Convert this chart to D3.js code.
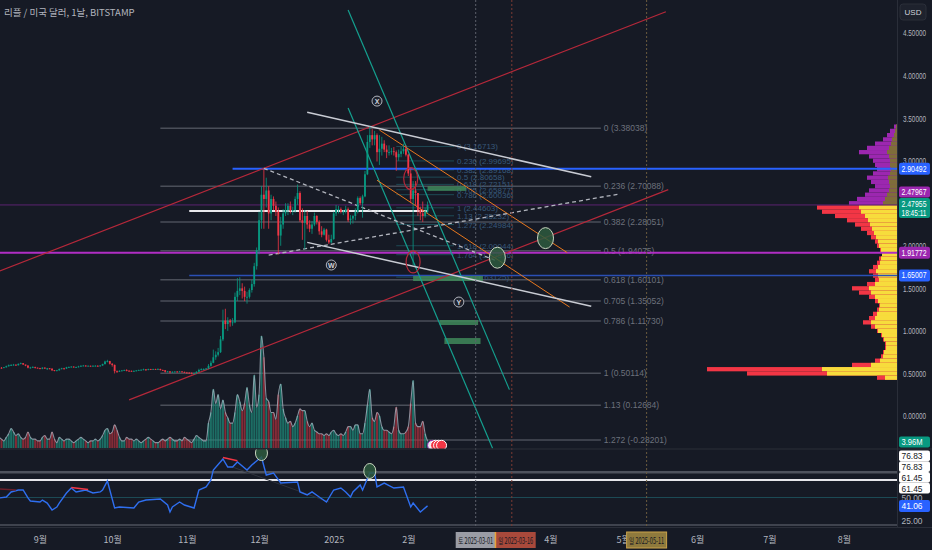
<!DOCTYPE html>
<html>
<head>
<meta charset="utf-8">
<script src="https://cdn.jsdelivr.net/npm/d3@7"></script>
<style>
html, body { margin: 0; padding: 0; background: #161a25; }
svg { display: block; }
</style>
</head>
<body>
<svg width="932" height="550"></svg>
<script>
// ================= DATA =================
const firstDay = "2024-08-15";
const firstOpen = 0.560;
// daily closes, Aug 15 2024 .. Feb 9 2025
const closes = [
  0.567,0.566,0.572,0.585,0.597,0.598,0.603,0.596,0.612,0.620,0.605,0.592,0.568,0.570,0.574,0.567,0.563,
  0.555,0.568,0.558,0.560,0.556,0.538,0.530,0.537,0.553,0.560,0.558,0.572,0.575,0.580,0.573,0.575,0.582,0.590,0.592,0.585,0.590,0.582,0.590,0.590,0.585,0.593,0.610,0.640,0.645,0.614,
  0.600,0.527,0.520,0.530,0.535,0.540,0.532,0.530,0.528,0.530,0.535,0.540,0.543,0.548,0.540,0.550,0.548,0.550,0.549,0.552,0.540,0.538,0.520,0.524,0.512,0.520,0.522,0.520,0.523,0.518,0.510,
  0.508,0.507,0.500,0.502,0.520,0.540,0.550,0.552,0.558,0.590,0.625,0.690,0.720,0.750,0.900,1.120,1.080,1.120,1.100,1.100,1.400,1.470,1.500,1.470,1.400,1.400,1.480,1.550,1.760,1.950,
  2.300,2.600,2.550,2.650,2.380,2.550,2.470,2.400,2.120,2.250,2.380,2.420,2.470,2.410,2.420,2.550,2.620,2.300,2.270,2.350,2.250,2.200,2.250,2.350,2.280,2.170,2.130,2.190,2.070,2.040,2.080,
  2.380,2.430,2.430,2.400,2.400,2.430,2.300,2.320,2.350,2.400,2.560,2.500,2.580,2.840,3.220,3.300,3.250,3.300,3.100,3.140,3.200,3.130,3.100,3.100,3.110,3.100,3.040,3.080,3.110,3.140,3.070,
  2.850,2.550,2.650,2.620,2.420,2.380,2.350,2.400,2.480
];
const highs = [
  0.575,0.575,0.576,0.592,0.605,0.610,0.612,0.606,0.618,0.628,0.622,0.602,0.598,0.578,0.585,0.580,0.570,
  0.566,0.572,0.572,0.565,0.564,0.560,0.540,0.542,0.558,0.566,0.566,0.578,0.582,0.585,0.584,0.580,0.590,0.595,0.600,0.598,0.594,0.592,0.596,0.598,0.596,0.598,0.615,0.650,0.660,0.648,
  0.620,0.605,0.535,0.538,0.540,0.545,0.550,0.538,0.535,0.535,0.540,0.545,0.548,0.556,0.552,0.556,0.554,0.555,0.555,0.560,0.556,0.545,0.540,0.530,0.528,0.524,0.526,0.528,0.530,0.528,0.522,
  0.518,0.515,0.512,0.510,0.525,0.555,0.560,0.560,0.565,0.610,0.650,0.780,0.760,0.800,0.940,1.250,1.260,1.160,1.140,1.150,1.450,1.620,1.630,1.560,1.520,1.460,1.500,1.600,1.800,1.980,
  2.400,2.700,2.900,2.800,2.700,2.600,2.580,2.520,2.450,2.340,2.430,2.500,2.500,2.520,2.460,2.580,2.720,2.640,2.440,2.420,2.410,2.300,2.290,2.390,2.360,2.300,2.230,2.210,2.200,2.130,2.130,
  2.400,2.480,2.470,2.450,2.420,2.470,2.450,2.360,2.360,2.440,2.580,2.580,2.600,2.880,3.300,3.400,3.370,3.350,3.320,3.300,3.280,3.240,3.180,3.180,3.150,3.160,3.120,3.130,3.160,3.200,3.180,
  3.080,2.900,2.760,2.760,2.620,2.460,2.520,2.450,2.520
];
const lows = [
  0.555,0.555,0.563,0.570,0.580,0.590,0.592,0.588,0.594,0.608,0.600,0.585,0.560,0.555,0.565,0.558,0.558,
  0.548,0.550,0.552,0.540,0.548,0.528,0.525,0.525,0.532,0.548,0.545,0.552,0.565,0.570,0.568,0.565,0.570,0.575,0.585,0.580,0.582,0.578,0.580,0.582,0.578,0.580,0.590,0.605,0.630,0.605,
  0.580,0.500,0.505,0.518,0.525,0.530,0.525,0.520,0.520,0.520,0.525,0.532,0.535,0.538,0.530,0.538,0.540,0.542,0.542,0.545,0.535,0.530,0.510,0.512,0.500,0.505,0.512,0.512,0.515,0.512,0.505,
  0.500,0.500,0.490,0.490,0.495,0.515,0.535,0.540,0.545,0.550,0.580,0.620,0.660,0.700,0.740,0.880,1.020,1.000,1.050,1.060,1.090,1.350,1.420,1.380,1.350,1.320,1.380,1.450,1.520,1.720,
  1.900,2.200,2.200,2.450,2.200,2.300,2.420,2.350,1.900,2.000,2.200,2.350,2.360,2.380,2.360,2.390,2.480,2.280,2.070,1.960,2.200,2.160,2.140,2.230,2.250,2.130,2.100,2.120,2.050,2.020,2.030,
  2.070,2.350,2.380,2.380,2.360,2.380,2.280,2.250,2.260,2.300,2.380,2.480,2.330,2.570,2.830,3.150,3.180,3.180,2.990,2.950,3.060,3.100,3.030,3.060,3.070,3.060,2.880,3.000,3.040,3.080,3.050,
  2.820,2.500,1.770,2.480,2.350,2.300,2.280,2.330,2.380
];
// daily volume, millions
const volumes = [
  6,5,4,6,8,11,9,7,8,6,5,6,9,6,5,5,4,
  4,6,7,5,5,9,5,3,6,5,4,5,5,4,3,4,5,6,5,4,3,4,4,5,4,5,7,10,11,8,
  9,13,10,6,4,4,6,5,5,4,5,4,3,4,5,6,5,4,3,3,4,5,4,5,6,5,4,4,5,4,6,
  5,4,3,5,7,6,5,4,4,14,20,33,25,30,22,27,20,17,14,14,20,30,26,21,25,34,24,20,41,23,
  30,63,51,28,26,20,20,16,30,36,22,17,14,15,12,14,18,22,21,21,15,12,14,10,9,8,8,7,8,7,9,
  10,8,7,8,7,9,12,12,10,13,13,8,8,14,24,33,17,15,20,18,12,10,10,9,8,12,23,10,8,8,9,
  12,25,38,14,12,12,15,8,3.96
];
// RSI readings (day index from first day, value)
const rsiIdx = [0,3,5,8,10,12,13,17,18,20,22,24,25,28,30,32,36,39,42,43,45,48,50,56,58,61,67,70,71,72,75,77,81,83,86,88,89,93,95,97,99,103,105,109,111,114,117,124,125,128,130,133,136,139,142,144,146,147,150,151,154,156,157,160,164,168,171,172,175,178];
const rsiVals = [49.5,50.5,55.9,58,58,49.5,46.3,45.2,47.3,44.1,36.7,39.9,44.1,54.8,60.1,55.9,58,54.8,55.9,58,67.6,38.8,39.9,38.8,45.2,47.3,48.4,42,34.6,39.9,45.2,42,38.8,58,61.2,68.6,79.3,91,82.4,82.4,87.8,79.3,84.6,93.1,73.9,76.1,65.4,66.5,55.9,52.7,55.9,50.5,45.2,58,60.1,55.9,50.5,55.9,63.3,58,76.1,76.1,61.2,65.4,60.1,61.2,39.9,44.1,34.6,41.06];

const priceTicks = [0, 0.5, 1, 1.5, 2, 2.5, 3, 3.5, 4, 4.5];
const monthDates = ["2024-09-01","2024-10-01","2024-11-01","2024-12-01","2025-01-01","2025-02-01","2025-04-01","2025-05-01","2025-06-01","2025-07-01","2025-08-01"];
const monthLabels = ["9월","10월","11월","12월","2025","2월","4월","5월","6월","7월","8월"];

const fibLevels = ["0","0.236","0.382","0.5","0.618","0.705","0.786","1","1.13","1.272"];
const fibPrices = [3.38038,2.70088,2.28051,1.94075,1.60101,1.35052,1.11730,0.50114,0.12684,-0.28201];
const fib2Levels = ["0","0.236","0.382","0.5","0.618","0.705","0.786","1","1.13","1.272","1.618","1.764","2.13"];
const fib2Prices = [3.16713,2.99695,2.89168,2.80658,2.72151,2.65877,2.60036,2.44603,2.35232,2.24984,2.00044,1.89516,1.63125];

// volume profile: bin price, total, inner part
const profPrices = [3.40,3.35,3.30,3.25,3.20,3.15,3.10,3.05,3.00,2.95,2.90,2.85,2.80,2.75,2.70,2.65,2.60,2.55,2.50,2.45,2.40,2.35,2.30,2.25,2.20,2.15,2.10,2.05,2.00,1.95,1.90,1.85,1.80,1.75,1.70,1.65,1.60,1.55,1.50,1.45,1.40,1.35,1.30,1.25,1.20,1.15,1.10,1.05,1.00,0.95,0.90,0.85,0.80,0.75,0.70,0.65,0.60,0.55,0.50,0.45];
const profTotal = [3,7,10,14,22,30,38,28,24,22,20,24,30,26,22,28,32,40,48,80,75,62,50,42,36,30,26,22,20,17,15,18,20,24,28,24,22,30,45,38,28,22,18,20,24,28,34,26,20,16,14,12,12,14,16,22,45,190,150,20];
const profInner = [1,2,3,5,6,8,10,8,7,7,6,7,9,8,7,8,10,12,14,38,36,32,29,27,25,23,21,19,18,16,15,16,17,19,21,19,18,22,28,26,22,19,17,18,20,22,26,22,19,15,13,11,11,13,14,17,26,75,70,12];

// drawings
const redLines = [["2024-08-15",1.70,"2025-05-19",4.75],["2024-10-08",0.19,"2025-05-20",2.66]];
const tealLines = [["2025-01-07",4.77,"2025-03-15",0.31],["2025-01-07",3.62,"2025-03-08",-0.38]];
const orangeLines = [["2025-01-20",3.36,"2025-04-08",1.92],["2025-01-19",2.77,"2025-04-09",1.28]];
const grayLines = [["2024-12-21",3.57,"2025-04-18",2.81],["2024-12-21",2.04,"2025-04-18",1.29]];
const dashLines = [["2024-12-03",2.91,"2025-03-09",1.83],["2024-12-05",1.89,"2025-04-30",2.61]];
const greenEllipses = [["2025-03-30",2.09],["2025-03-10",1.86]];
const redEllipses = [["2025-02-02",2.79],["2025-02-03",1.81]];
const greenRects = [["2025-02-09","2025-02-25",2.70,2.645],["2025-02-03","2025-03-04",1.645,1.586],["2025-02-14","2025-03-02",1.128,1.069],["2025-02-16","2025-03-03",0.916,0.846]];
const pointLabels = [["X","2025-01-19",3.70],["W","2024-12-31",1.774],["Y","2025-02-22",1.339]];
const markerDates = ["2025-03-01","2025-03-16","2025-05-11"];
const markerTexts = ["토 2025-03-01","일 2025-03-16","일 2025-05-11"];

// ================= SCALES =================
const W = 932, H = 550, axisX = 897;
const parse = d3.timeParse("%Y-%m-%d");
const day0 = parse(firstDay);
const dayAt = i => d3.timeDay.offset(day0, i);

const x = d3.scaleTime().domain([parse("2024-09-01"), parse("2025-08-01")]).range([40, 844]);
const y = d3.scaleLinear().domain([0, 4.5]).range([416, 33]);
const yVol = d3.scaleLinear().domain([0, 63]).range([448, 336]);
const yRsi = d3.scaleLinear().domain([25, 50]).range([521, 497.5]);
const wProf = d3.scaleLinear().domain([0, 222]).range([0, 222]);

const svg = d3.select("svg");
svg.append("rect").attr("width", W).attr("height", H).attr("fill", "#161a25");

svg.append("clipPath").attr("id", "cm").append("rect")
  .attr("x", 0).attr("y", 0).attr("width", axisX).attr("height", 449);
svg.append("clipPath").attr("id", "cr").append("rect")
  .attr("x", 0).attr("y", 449).attr("width", axisX).attr("height", 78);

const main = svg.append("g").attr("clip-path", "url(#cm)");
const rsiG = svg.append("g").attr("clip-path", "url(#cr)");

// date marker dotted lines
const markerColors = ["#5d606b", "#7d3b33", "#6b5c3e"];
markerDates.forEach((d, i) => {
  svg.append("line").attr("x1", x(parse(d))).attr("x2", x(parse(d)))
    .attr("y1", 0).attr("y2", 527).attr("stroke", markerColors[i])
    .attr("stroke-width", 1).attr("stroke-dasharray", "2,2");
});

// ================= VOLUME PROFILE =================
const binH = y(0) - y(0.05);
profPrices.forEach((p, i) => {
  const above = p >= 2.48;
  main.append("rect").attr("x", axisX - wProf(profTotal[i])).attr("y", y(p + 0.025))
    .attr("width", wProf(profTotal[i])).attr("height", binH)
    .attr("fill", above ? "#9c27b0" : "#f23645");
  main.append("rect").attr("x", axisX - wProf(profInner[i])).attr("y", y(p + 0.025))
    .attr("width", wProf(profInner[i])).attr("height", binH)
    .attr("fill", above ? "#7f6d3a" : "#f7dc3c");
});

// ================= FIBS =================
const fx1 = x(parse("2024-10-21")), fx2 = x(parse("2025-04-22"));
fibPrices.forEach((p, i) => {
  main.append("line").attr("x1", fx1).attr("x2", fx2).attr("y1", y(p)).attr("y2", y(p))
    .attr("stroke", "#4a4e59").attr("stroke-width", 1.5);
  main.append("text").attr("x", fx2 + 3).attr("y", y(p) + 3)
    .attr("font-family", "Liberation Sans, sans-serif").attr("font-size", 8.5)
    .attr("fill", "#6d717c").text(fibLevels[i] + " (" + p.toFixed(5) + ")");
});
const f2x1 = x(parse("2025-01-27")), f2x2 = x(parse("2025-02-20"));
fib2Prices.forEach((p, i) => {
  main.append("line").attr("x1", f2x1).attr("x2", f2x2).attr("y1", y(p)).attr("y2", y(p))
    .attr("stroke", "#1e4a55").attr("stroke-width", 1);
  main.append("text").attr("x", f2x2 + 3).attr("y", y(p) + 3)
    .attr("font-family", "Liberation Sans, sans-serif").attr("font-size", 8)
    .attr("fill", "#37597a").text(fib2Levels[i] + " (" + p.toFixed(5) + ")");
});

// ================= HORIZONTAL LEVELS =================
function hline(p, fromDate, color, w) {
  main.append("line").attr("x1", fromDate ? x(parse(fromDate)) : 0).attr("x2", axisX)
    .attr("y1", y(p)).attr("y2", y(p)).attr("stroke", color).attr("stroke-width", w);
}
hline(2.47967, null, "#5c2370", 1);
hline(2.90492, "2024-11-20", "#2962ff", 2);
hline(1.91772, null, "#b02ec4", 2);
hline(1.65007, "2024-11-02", "#2b4fb5", 1.5);
main.append("line").attr("x1", x(parse("2024-11-02"))).attr("x2", x(parse("2025-02-09")))
  .attr("y1", y(2.409)).attr("y2", y(2.409)).attr("stroke", "#e8e8ec").attr("stroke-width", 2);

// ================= GREEN ZONES =================
greenRects.forEach(r => {
  main.append("rect").attr("x", x(parse(r[0]))).attr("y", y(r[2]))
    .attr("width", x(parse(r[1])) - x(parse(r[0]))).attr("height", y(r[3]) - y(r[2]))
    .attr("fill", "#3f8a5a").attr("opacity", 0.85);
});

// ================= VOLUME =================
const opens = closes.map((c, i) => i === 0 ? firstOpen : closes[i - 1]);
volumes.forEach((v, i) => {
  const up = closes[i] >= opens[i];
  main.append("rect").attr("x", x(dayAt(i)) - 1).attr("y", yVol(v))
    .attr("width", 2).attr("height", yVol(0) - yVol(v))
    .attr("fill", up ? "#1f8a7a" : "#a8323d").attr("opacity", 0.75);
});
main.append("path").datum(volumes)
  .attr("d", d3.line().x((v, i) => x(dayAt(i))).y(v => yVol(v)).curve(d3.curveMonotoneX))
  .attr("fill", "none").attr("stroke", "#a9b6c3").attr("stroke-width", 1.1).attr("opacity", 0.75);

// ================= TREND LINES =================
function seg(g, l, color, w, dash) {
  const s = g.append("line").attr("x1", x(parse(l[0]))).attr("y1", y(l[1]))
    .attr("x2", x(parse(l[2]))).attr("y2", y(l[3]))
    .attr("stroke", color).attr("stroke-width", w);
  if (dash) s.attr("stroke-dasharray", dash);
}
redLines.forEach(l => seg(main, l, "#b5283a", 1.2));
tealLines.forEach(l => seg(main, l, "#14a08f", 1.2));
orangeLines.forEach(l => seg(main, l, "#e8781e", 1));
grayLines.forEach(l => seg(main, l, "#c9ccd4", 1.5));
dashLines.forEach(l => seg(main, l, "#b2b5be", 1.3, "4,3"));

// ================= CANDLES =================
const candles = main.append("g");
closes.forEach((c, i) => {
  const o = opens[i], cx = x(dayAt(i));
  const col = c >= o ? "#089981" : "#f23645";
  candles.append("line").attr("x1", cx).attr("x2", cx).attr("y1", y(highs[i])).attr("y2", y(lows[i]))
    .attr("stroke", col).attr("stroke-width", 0.8);
  candles.append("rect").attr("x", cx - 0.9).attr("y", y(Math.max(o, c)))
    .attr("width", 1.8).attr("height", Math.max(0.8, Math.abs(y(o) - y(c)))).attr("fill", col);
});

// ellipses
greenEllipses.forEach(e => {
  main.append("ellipse").attr("cx", x(parse(e[0]))).attr("cy", y(e[1])).attr("rx", 8).attr("ry", 10.5)
    .attr("fill", "#2d5a3e").attr("fill-opacity", 0.85).attr("stroke", "#c9d6c0").attr("stroke-width", 1);
});
redEllipses.forEach(e => {
  main.append("ellipse").attr("cx", x(parse(e[0]))).attr("cy", y(e[1])).attr("rx", 7).attr("ry", 11)
    .attr("fill", "none").attr("stroke", "#b5283a").attr("stroke-width", 1.2);
});

// point labels
pointLabels.forEach(p => {
  const gx = x(parse(p[1])), gy = y(p[2]);
  main.append("circle").attr("cx", gx).attr("cy", gy).attr("r", 5)
    .attr("fill", "#1e222d").attr("stroke", "#b2b5be").attr("stroke-width", 1);
  main.append("text").attr("x", gx).attr("y", gy + 2.5).attr("text-anchor", "middle")
    .attr("font-family", "Liberation Sans, sans-serif").attr("font-size", 7).attr("font-weight", "bold")
    .attr("fill", "#d1d4dc").text(p[0]);
});

// event icons at end of volume
const evX = x(dayAt(closes.length - 1)) + 5, evY = yVol(1.5);
[0, 3, 6, 9].forEach((dx, k) => {
  main.append("circle").attr("cx", evX + dx).attr("cy", evY).attr("r", 5)
    .attr("fill", k === 0 ? "#e8eaf0" : "#f23645").attr("stroke", k === 0 ? "#9c27b0" : "#ffffff").attr("stroke-width", 1);
});

// ================= RSI =================
function rline(v, color, w) {
  rsiG.append("line").attr("x1", 0).attr("x2", axisX).attr("y1", yRsi(v)).attr("y2", yRsi(v))
    .attr("stroke", color).attr("stroke-width", w);
}
rline(76.83, "#4e525d", 2.5);
rline(68.5, "#e6e6ea", 2);
rline(50, "#1c4a55", 1);
rsiG.append("line").attr("x1", 0).attr("x2", axisX).attr("y1", 525).attr("y2", 525)
  .attr("stroke", "#4e525d").attr("stroke-width", 1.5);
rsiG.append("line").attr("x1", x(dayAt(97))).attr("y1", yRsi(82.4))
  .attr("x2", x(dayAt(137))).attr("y2", yRsi(45.2)).attr("stroke", "#2e323d").attr("stroke-width", 1);
rsiG.append("path").datum(rsiIdx)
  .attr("d", d3.line().x(i => x(dayAt(i))).y((i, k) => yRsi(rsiVals[k])))
  .attr("fill", "none").attr("stroke", "#2f6ff0").attr("stroke-width", 1.4);
[[0, 59, 7, 58, "#6b1f2a"], [30, 60.6, 37, 58.6, "#f23645"], [93, 92.5, 99, 89, "#f23645"]].forEach(s => {
  rsiG.append("line").attr("x1", x(dayAt(s[0]))).attr("y1", yRsi(s[1]))
    .attr("x2", x(dayAt(s[2]))).attr("y2", yRsi(s[3])).attr("stroke", s[4]).attr("stroke-width", 1.5);
});
[[109, 97.3], [154, 78.2]].forEach(e => {
  rsiG.append("ellipse").attr("cx", x(dayAt(e[0]))).attr("cy", yRsi(e[1])).attr("rx", 6).attr("ry", 7.5)
    .attr("fill", "#2d5a3e").attr("fill-opacity", 0.85).attr("stroke", "#c9d6c0").attr("stroke-width", 1);
});

// ================= PANE BORDERS =================
svg.append("line").attr("x1", 0).attr("x2", W).attr("y1", 449).attr("y2", 449).attr("stroke", "#2a2e39");
svg.append("line").attr("x1", 0).attr("x2", W).attr("y1", 527.5).attr("y2", 527.5).attr("stroke", "#2a2e39");
svg.append("line").attr("x1", axisX + 0.5).attr("x2", axisX + 0.5).attr("y1", 0).attr("y2", 527).attr("stroke", "#2a2e39");

// ================= AXES =================
const font = "Liberation Sans, sans-serif";
const narrow = "Liberation Sans Narrow, Liberation Sans, sans-serif";
const yAxis = svg.append("g").attr("transform", "translate(" + (axisX + 3) + ",0)")
  .call(d3.axisRight(y).tickValues(priceTicks).tickFormat(d3.format(".5f")).tickSize(0).tickPadding(3));
yAxis.select(".domain").remove();
yAxis.selectAll("text").attr("fill", "#b2b5be").attr("font-size", 9).attr("font-family", narrow)
  .attr("textLength", 23).attr("lengthAdjust", "spacingAndGlyphs");

const xAxis = svg.append("g").attr("transform", "translate(0,531)")
  .call(d3.axisBottom(x).tickValues(monthDates.map(parse)).tickFormat((d, i) => monthLabels[i]).tickSize(0).tickPadding(6));
xAxis.select(".domain").remove();
xAxis.selectAll("text").attr("fill", "#b2b5be").attr("font-size", 9).attr("font-family", "Noto Sans CJK KR, sans-serif");

// title and currency
svg.append("text").attr("x", 4).attr("y", 16).attr("fill", "#b2b5be").attr("font-size", 9.5)
  .attr("font-family", "Noto Sans CJK KR, sans-serif").text("리플 / 미국 달러, 1날, BITSTAMP");
svg.append("rect").attr("x", 900).attr("y", 4).attr("width", 26).attr("height", 16).attr("rx", 3)
  .attr("fill", "#1e222d").attr("stroke", "#2a2e39");
svg.append("text").attr("x", 913).attr("y", 15).attr("text-anchor", "middle").attr("fill", "#d1d4dc")
  .attr("font-size", 8).attr("font-family", font).text("USD");

// price tags
function tag(cy, h, fill, lines, txtColor) {
  svg.append("rect").attr("x", axisX + 2).attr("y", cy - h / 2).attr("width", 31).attr("height", h)
    .attr("rx", 2).attr("fill", fill);
  lines.forEach((t, k) => {
    svg.append("text").attr("x", axisX + 4.5).attr("y", cy - h / 2 + 8.8 + k * 9.5)
      .attr("fill", txtColor || "#ffffff").attr("font-size", 8.8).attr("font-family", narrow)
      .attr("textLength", t.length > 5 ? 25 : 21).attr("lengthAdjust", "spacingAndGlyphs").text(t);
  });
}
tag(y(2.90492), 12, "#2962ff", ["2.90492"]);
tag(y(2.47955) + 3, 20, "#089981", ["2.47955", "18:45:11"]);
tag(y(2.47967) - 13, 11, "#9c27b0", ["2.47967"]);
tag(y(1.91772), 12, "#9c27b0", ["1.91772"]);
tag(y(1.65007), 12, "#2962ff", ["1.65007"]);
tag(yVol(3.96) + 1, 11, "#089981", ["3.96M"]);

// rsi scale labels
const rsiTop = yRsi(76.83) - 16.5;
["76.83", "76.83", "61.45", "61.45"].forEach((t, k) => {
  tag(rsiTop + k * 10.8, 10.8, "#ffffff", [t], "#131722");
});
svg.append("text").attr("x", axisX + 4.5).attr("y", yRsi(50) + 3).attr("fill", "#b2b5be")
  .attr("font-size", 9).attr("font-family", narrow).attr("textLength", 21).attr("lengthAdjust", "spacingAndGlyphs").text("50.00");
tag(yRsi(41.06), 12, "#2962ff", ["41.06"]);
svg.append("text").attr("x", axisX + 4.5).attr("y", yRsi(25) + 3).attr("fill", "#b2b5be")
  .attr("font-size", 9).attr("font-family", narrow).attr("textLength", 21).attr("lengthAdjust", "spacingAndGlyphs").text("25.00");

// date marker boxes on time axis
const boxFill = ["#9a9ca5", "#a8493b", "#8f7a3d"];
let lastEnd = -1;
markerDates.forEach((d, i) => {
  const bw = 40;
  let bx = x(parse(d)) - bw / 2;
  if (bx < lastEnd) bx = lastEnd;
  lastEnd = bx + bw;
  svg.append("rect").attr("x", bx).attr("y", 532).attr("width", bw).attr("height", 16)
    .attr("fill", boxFill[i]).attr("stroke", i === 2 ? "#c9a24a" : "none");
  svg.append("text").attr("x", bx + 2.5).attr("y", 543.5)
    .attr("fill", "#131722").attr("font-size", 8.5).attr("font-family", "Noto Sans CJK KR, sans-serif")
    .attr("textLength", bw - 5).attr("lengthAdjust", "spacingAndGlyphs")
    .text(markerTexts[i]);
});
svg.append("rect").attr("x", x(parse(markerDates[0])) + 19).attr("y", 532).attr("width", 1.5).attr("height", 16).attr("fill", "#e8a33a");
</script>
</body>
</html>
